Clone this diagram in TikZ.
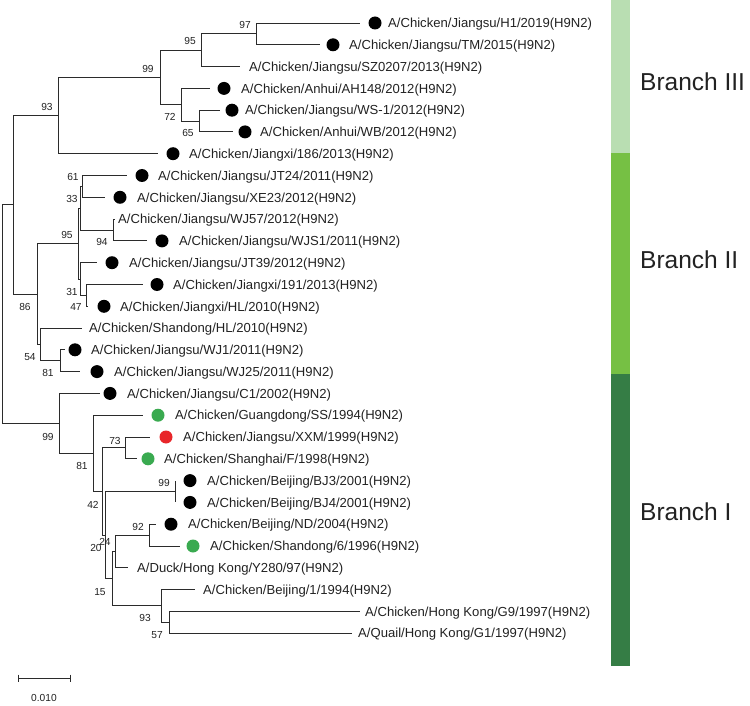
\documentclass[tikz,border=0pt]{standalone}
\usepackage{fontspec}
\setmainfont{Liberation Sans}
\definecolor{lineC}{HTML}{2B2B2B}
\definecolor{txtC}{HTML}{222222}
\definecolor{dotGreen}{HTML}{3AAA50}
\definecolor{dotRed}{HTML}{E8262A}
\definecolor{brIII}{HTML}{B9DEB2}
\definecolor{brII}{HTML}{76C044}
\definecolor{brI}{HTML}{357D45}
\tikzset{
  edge/.style={draw=lineC, line width=0.9pt},
  leaf/.style={anchor=west, inner sep=0pt, text=txtC, text height=9.4pt, text depth=0pt,
    font=\fontsize{13.1}{15}\selectfont},
  bs/.style={inner sep=0pt, text=txtC, text height=7.3pt, text depth=0pt,
    font=\fontsize{10.2}{12}\selectfont},
  dotK/.style={circle, fill=black, inner sep=0pt, minimum size=13pt},
  dotG/.style={circle, fill=dotGreen, inner sep=0pt, minimum size=13pt},
  dotR/.style={circle, fill=dotRed, inner sep=0pt, minimum size=13pt},
  brlab/.style={anchor=west, inner sep=0pt, text=txtC, text height=17.5pt, text depth=0pt,
    font=\fontsize{24.5}{28}\selectfont}
}
\newcommand{\mkleaf}[7]{%
  \coordinate (l#1) at (#3,#2);
  \node[#6] (d#1) at (#4,#2) {};
  \node[leaf] (t#1) at (#5,#2) {#7};
}
\newcommand{\mkleafn}[5]{%
  \coordinate (l#1) at (#3,#2);
  \node[leaf] (t#1) at (#4,#2) {#5};
}
\begin{document}
\begin{tikzpicture}[x=1pt, y=-1pt]
\useasboundingbox (0,0) rectangle (750,706);

% ---- leaves ----
\mkleaf{1}{23.0}{360}{375}{388}{dotK}{A/Chicken/Jiangsu/H1/2019(H9N2)}
\mkleaf{2}{44.8}{320}{333}{349}{dotK}{A/Chicken/Jiangsu/TM/2015(H9N2)}
\mkleafn{3}{66.6}{240}{249}{A/Chicken/Jiangsu/SZ0207/2013(H9N2)}
\mkleaf{4}{88.4}{210}{224}{241}{dotK}{A/Chicken/Anhui/AH148/2012(H9N2)}
\mkleaf{5}{110.2}{220}{232}{245}{dotK}{A/Chicken/Jiangsu/WS-1/2012(H9N2)}
\mkleaf{6}{131.9}{233}{245}{260}{dotK}{A/Chicken/Anhui/WB/2012(H9N2)}
\mkleaf{7}{153.7}{158}{173}{189}{dotK}{A/Chicken/Jiangxi/186/2013(H9N2)}
\mkleaf{8}{175.5}{127}{142}{158}{dotK}{A/Chicken/Jiangsu/JT24/2011(H9N2)}
\mkleaf{9}{197.3}{105}{120}{137}{dotK}{A/Chicken/Jiangsu/XE23/2012(H9N2)}
\mkleafn{10}{219.1}{115}{118}{A/Chicken/Jiangsu/WJ57/2012(H9N2)}
\mkleaf{11}{240.9}{147}{162}{179}{dotK}{A/Chicken/Jiangsu/WJS1/2011(H9N2)}
\mkleaf{12}{262.7}{97}{112}{129}{dotK}{A/Chicken/Jiangsu/JT39/2012(H9N2)}
\mkleaf{13}{284.5}{143}{157}{173}{dotK}{A/Chicken/Jiangxi/191/2013(H9N2)}
\mkleaf{14}{306.3}{88}{104}{120}{dotK}{A/Chicken/Jiangxi/HL/2010(H9N2)}
\mkleafn{15}{328.1}{82}{89}{A/Chicken/Shandong/HL/2010(H9N2)}
\mkleaf{16}{349.8}{65}{75}{91}{dotK}{A/Chicken/Jiangsu/WJ1/2011(H9N2)}
\mkleaf{17}{371.6}{80}{97}{114}{dotK}{A/Chicken/Jiangsu/WJ25/2011(H9N2)}
\mkleaf{18}{393.4}{100}{110}{127}{dotK}{A/Chicken/Jiangsu/C1/2002(H9N2)}
\mkleaf{19}{415.2}{143}{158}{175}{dotG}{A/Chicken/Guangdong/SS/1994(H9N2)}
\mkleaf{20}{437.0}{150}{166}{183}{dotR}{A/Chicken/Jiangsu/XXM/1999(H9N2)}
\mkleaf{21}{458.8}{137}{148}{164}{dotG}{A/Chicken/Shanghai/F/1998(H9N2)}
\mkleaf{22}{480.6}{175}{190}{207}{dotK}{A/Chicken/Beijing/BJ3/2001(H9N2)}
\mkleaf{23}{502.4}{175}{190}{207}{dotK}{A/Chicken/Beijing/BJ4/2001(H9N2)}
\mkleaf{24}{524.2}{156}{171}{188}{dotK}{A/Chicken/Beijing/ND/2004(H9N2)}
\mkleaf{25}{546.0}{180}{193}{210}{dotG}{A/Chicken/Shandong/6/1996(H9N2)}
\mkleafn{26}{567.8}{128}{137}{A/Duck/Hong Kong/Y280/97(H9N2)}
\mkleafn{27}{589.6}{195}{203}{A/Chicken/Beijing/1/1994(H9N2)}
\mkleafn{28}{611.3}{360}{365}{A/Chicken/Hong Kong/G9/1997(H9N2)}
\mkleafn{29}{633.1}{352}{358}{A/Quail/Hong Kong/G1/1997(H9N2)}

% ---- internal nodes ----
\coordinate (n97)  at (256,33.9);
\coordinate (n95a) at (201,50.25);
\coordinate (n65a) at (199,121.0);
\coordinate (n72)  at (181,104.7);
\coordinate (n99a) at (160,77.5);
\coordinate (n93a) at (58,115.6);
\coordinate (n61)  at (82,186.4);
\coordinate (n94a) at (113,230.0);
\coordinate (n33)  at (80,208.2);
\coordinate (n47a) at (86,295.4);
\coordinate (n31)  at (80,279.0);
\coordinate (n95b) at (78,243.6);
\coordinate (n81a) at (60,360.7);
\coordinate (n54)  at (40,344.4);
\coordinate (n86)  at (37,294.0);
\coordinate (n13)  at (13,204.8);
\coordinate (n73)  at (125,447.9);
\coordinate (n99b) at (175,491.5);
\coordinate (n92)  at (149,535.1);
\coordinate (n24)  at (115,551.5);
\coordinate (n57)  at (169,622.2);
\coordinate (n93b) at (161,605.9);
\coordinate (n15)  at (112,578.7);
\coordinate (n20)  at (105,535.1);
\coordinate (n42)  at (102,491.5);
\coordinate (n81b) at (93,453.4);
\coordinate (n99c) at (59,423.4);
\coordinate (root) at (2,314.1);

% ---- edges ----
\draw[edge] (n97) |- (l1);  \draw[edge] (n97) |- (l2);
\draw[edge] (n95a) |- (n97); \draw[edge] (n95a) |- (l3);
\draw[edge] (n65a) |- (l5); \draw[edge] (n65a) |- (l6);
\draw[edge] (n72) |- (l4);  \draw[edge] (n72) |- (n65a);
\draw[edge] (n99a) |- (n95a); \draw[edge] (n99a) |- (n72);
\draw[edge] (n93a) |- (n99a); \draw[edge] (n93a) |- (l7);
\draw[edge] (n61) |- (l8);  \draw[edge] (n61) |- (l9);
\draw[edge] (n94a) |- (l10); \draw[edge] (n94a) |- (l11);
\draw[edge] (n33) |- (n61); \draw[edge] (n33) |- (n94a);
\draw[edge] (n47a) |- (l13); \draw[edge] (n47a) |- (l14);
\draw[edge] (n31) |- (l12); \draw[edge] (n31) |- (n47a);
\draw[edge] (n95b) |- (n33); \draw[edge] (n95b) |- (n31);
\draw[edge] (n81a) |- (l16); \draw[edge] (n81a) |- (l17);
\draw[edge] (n54) |- (l15); \draw[edge] (n54) |- (n81a);
\draw[edge] (n86) |- (n95b); \draw[edge] (n86) |- (n54);
\draw[edge] (n13) |- (n93a); \draw[edge] (n13) |- (n86);
\draw[edge] (n73) |- (l20); \draw[edge] (n73) |- (l21);
\draw[edge] (n99b) |- (l22); \draw[edge] (n99b) |- (l23);
\draw[edge] (n92) |- (l24); \draw[edge] (n92) |- (l25);
\draw[edge] (n24) |- (n92); \draw[edge] (n24) |- (l26);
\draw[edge] (n57) |- (l28); \draw[edge] (n57) |- (l29);
\draw[edge] (n93b) |- (l27); \draw[edge] (n93b) |- (n57);
\draw[edge] (n15) |- (n24); \draw[edge] (n15) |- (n93b);
\draw[edge] (n20) |- (n99b); \draw[edge] (n20) |- (n15);
\draw[edge] (n42) |- (n73); \draw[edge] (n42) |- (n20);
\draw[edge] (n81b) |- (l19); \draw[edge] (n81b) |- (n42);
\draw[edge] (n99c) |- (l18); \draw[edge] (n99c) |- (n81b);
\draw[edge] (root) |- (n13); \draw[edge] (root) |- (n99c);

% ---- bootstrap values ----
\node[bs] (b1)  at (245,25)  {97};
\node[bs] (b2)  at (190,41)  {95};
\node[bs] (b3)  at (148,69)  {99};
\node[bs] (b4)  at (47,107)  {93};
\node[bs] (b5)  at (170,117) {72};
\node[bs] (b6)  at (188,133) {65};
\node[bs] (b7)  at (73,177)  {61};
\node[bs] (b8)  at (72,199)  {33};
\node[bs] (b9)  at (67,235)  {95};
\node[bs] (b10) at (102,242) {94};
\node[bs] (b11) at (72,292)  {31};
\node[bs] (b12) at (76,307)  {47};
\node[bs] (b13) at (25,307)  {86};
\node[bs] (b14) at (30,357)  {54};
\node[bs] (b15) at (48,373)  {81};
\node[bs] (b16) at (48,437)  {99};
\node[bs] (b17) at (82,466)  {81};
\node[bs] (b18) at (115,441) {73};
\node[bs] (b19) at (93,505)  {42};
\node[bs] (b20) at (164,483) {99};
\node[bs] (b21) at (138,527) {92};
\node[bs] (b22) at (105,542) {24};
\node[bs] (b23) at (96,548)  {20};
\node[bs] (b24) at (100,592) {15};
\node[bs] (b25) at (145,618) {93};
\node[bs] (b26) at (157,635) {57};

% ---- scale bar ----
\coordinate (sbL) at (18,678);
\coordinate (sbR) at (70,678);
\draw[edge] (sbL) -- (sbR);
\draw[edge] ([yshift=3.5pt]sbL) -- ([yshift=-3.5pt]sbL);
\draw[edge] ([yshift=3.5pt]sbR) -- ([yshift=-3.5pt]sbR);
\node[bs] (sblab) at (44,698) {0.010};

% ---- branch colour bar ----
\fill[brIII] (611,0) rectangle (630,153);
\fill[brII]  (611,153) rectangle (630,374);
\fill[brI]   (611,374) rectangle (630,666);
\node[brlab] (br3) at (640,82)  {Branch III};
\node[brlab] (br2) at (640,260) {Branch II};
\node[brlab] (br1) at (640,512) {Branch I};
\end{tikzpicture}
\end{document}
